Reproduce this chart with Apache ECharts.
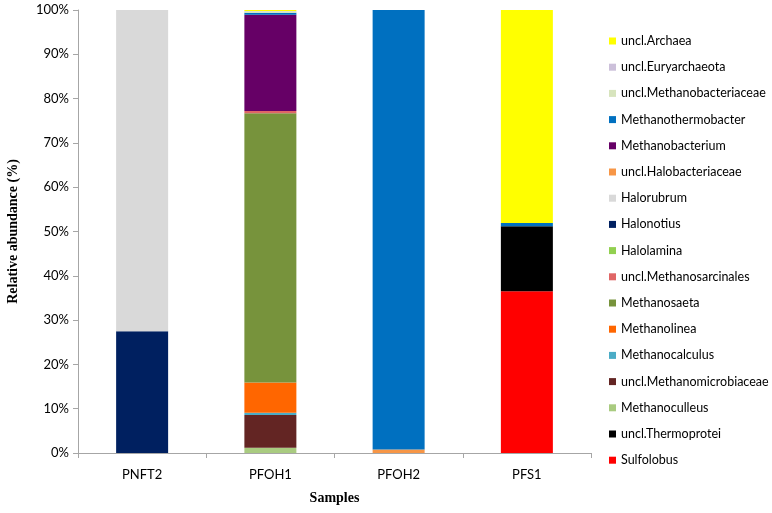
<!DOCTYPE html>
<html><head><meta charset="utf-8">
<script src="https://cdn.jsdelivr.net/npm/echarts@6/dist/echarts.min.js"></script>
<style>html,body{margin:0;padding:0;background:#fff}#c{width:772px;height:513px}</style>
</head><body><div id="c"></div>
<script>
const categories = ['PNFT2', 'PFOH1', 'PFOH2', 'PFS1'];
const yTicks = [0, 10, 20, 30, 40, 50, 60, 70, 80, 90, 100];

const Sulfolobus = [0, 0, 0, 36.5];
const unclThermoprotei = [0, 0, 0, 14.7];
const Methanoculleus = [0, 1.2, 0, 0];
const unclMethanomicrobiaceae = [0, 7.4, 0, 0];
const Methanocalculus = [0, 0.5, 0, 0];
const Methanolinea = [0, 6.8, 0, 0];
const Methanosaeta = [0, 60.8, 0, 0];
const unclMethanosarcinales = [0, 0.5, 0, 0];
const Halolamina = [0, 0, 0, 0];
const Halonotius = [27.5, 0, 0, 0];
const Halorubrum = [72.5, 0, 0, 0];
const unclHalobacteriaceae = [0, 0, 0.8, 0];
const Methanobacterium = [0, 21.7, 0, 0];
const Methanothermobacter = [0, 0.5, 99.2, 0.7];
const unclMethanobacteriaceae = [0, 0.3, 0, 0];
const unclEuryarchaeota = [0, 0.1, 0, 0];
const unclArchaea = [0, 0.2, 0, 48.1];

const seriesDefs = [
  ['Sulfolobus', Sulfolobus, '#FF0000'],
  ['uncl.Thermoprotei', unclThermoprotei, '#000000'],
  ['Methanoculleus', Methanoculleus, '#A9CB80'],
  ['uncl.Methanomicrobiaceae', unclMethanomicrobiaceae, '#632523'],
  ['Methanocalculus', Methanocalculus, '#4BACC6'],
  ['Methanolinea', Methanolinea, '#FF6600'],
  ['Methanosaeta', Methanosaeta, '#77933C'],
  ['uncl.Methanosarcinales', unclMethanosarcinales, '#E06666'],
  ['Halolamina', Halolamina, '#92D050'],
  ['Halonotius', Halonotius, '#002060'],
  ['Halorubrum', Halorubrum, '#D9D9D9'],
  ['uncl.Halobacteriaceae', unclHalobacteriaceae, '#F79646'],
  ['Methanobacterium', Methanobacterium, '#660066'],
  ['Methanothermobacter', Methanothermobacter, '#0070C0'],
  ['uncl.Methanobacteriaceae', unclMethanobacteriaceae, '#D7E4BD'],
  ['uncl.Euryarchaeota', unclEuryarchaeota, '#CCC0DA'],
  ['uncl.Archaea', unclArchaea, '#FFFF00']
];

const chart = echarts.init(document.getElementById('c'), null, {renderer: 'canvas'});
const axisLineStyle = {color: '#A6A6A6', width: 1};
chart.setOption({
  animation: false,
  backgroundColor: '#ffffff',
  grid: {left: 78, right: 181, top: 10, bottom: 60, containLabel: false, outerBoundsMode: 'none'},
  legend: {
    orient: 'vertical',
    left: 604,
    top: 29,
    itemWidth: 7,
    itemHeight: 7,
    itemGap: 12.2,
    itemTextGap: 5,
    icon: 'rect',
    data: seriesDefs.map(d => d[0]).reverse(),
    textStyle: {fontFamily: 'Lato', fontSize: 12.5, color: '#000', lineHeight: 14}
  },
  xAxis: {
    type: 'category',
    data: categories,
    name: 'Samples',
    nameLocation: 'middle',
    nameGap: 38,
    nameTextStyle: {fontFamily: 'Liberation Serif', fontWeight: 'bold', fontSize: 14, color: '#000'},
    axisLine: {lineStyle: axisLineStyle},
    axisTick: {show: true, length: 5, lineStyle: axisLineStyle, alignWithLabel: false},
    axisLabel: {fontFamily: 'Lato', fontSize: 13, color: '#000', margin: 15}
  },
  yAxis: {
    type: 'value',
    min: yTicks[0],
    max: yTicks[yTicks.length - 1],
    interval: 10,
    name: 'Relative abundance (%)',
    nameLocation: 'middle',
    nameGap: 58,
    nameRotate: 90,
    nameTextStyle: {fontFamily: 'Liberation Serif', fontWeight: 'bold', fontSize: 14, color: '#000'},
    axisLine: {show: true, lineStyle: axisLineStyle},
    axisTick: {show: true, length: 5, lineStyle: axisLineStyle},
    splitLine: {show: false},
    axisLabel: {fontFamily: 'Lato', fontSize: 13, color: '#000', margin: 9, formatter: v => v + '%'}
  },
  series: seriesDefs.map(d => ({
    name: d[0],
    type: 'bar',
    stack: 'total',
    data: d[1],
    barWidth: 52,
    itemStyle: {color: d[2]},
    emphasis: {disabled: true}
  }))
});
</script></body></html>
